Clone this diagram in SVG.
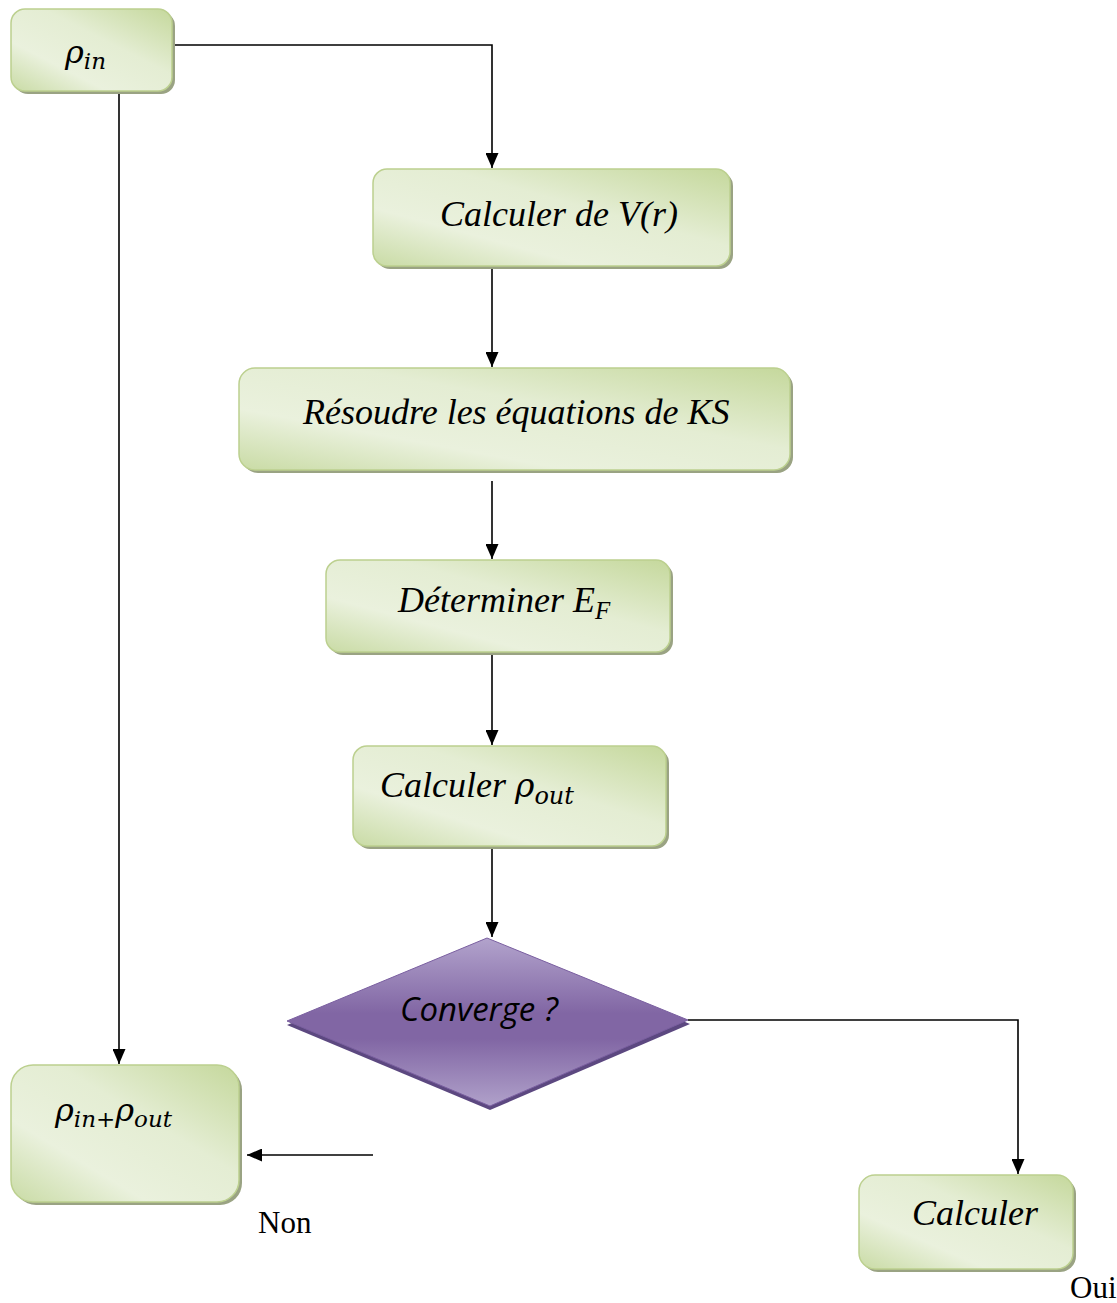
<svg xmlns="http://www.w3.org/2000/svg" width="1117" height="1303" viewBox="0 0 1117 1303">
<defs>
<linearGradient id="g" x1="0" y1="1" x2="1" y2="0">
<stop offset="0" stop-color="#c9dba5"/>
<stop offset="0.3" stop-color="#eaf1dd"/>
<stop offset="0.6" stop-color="#e4edd3"/>
<stop offset="1" stop-color="#c5d89c"/>
</linearGradient>
<linearGradient id="p" x1="0" y1="0" x2="0" y2="1">
<stop offset="0" stop-color="#b2a3cc"/>
<stop offset="0.45" stop-color="#8166a4"/>
<stop offset="0.6" stop-color="#8166a4"/>
<stop offset="1" stop-color="#b0a1ca"/>
</linearGradient>
<marker id="a" viewBox="0 0 15 13" refX="15" refY="6.5" markerWidth="15" markerHeight="13" markerUnits="userSpaceOnUse" orient="auto">
<path d="M0,0 L15,6.5 L0,13 z" fill="#000"/>
</marker>
</defs>
<style>
.box{fill:url(#g);stroke:#bcd08f;stroke-width:1.5}
.sh{fill:#9aa383}
.t{font-family:"Liberation Serif",serif;font-style:italic;font-size:36px;fill:#000}
.m{font-family:"DejaVu Serif","Liberation Serif",serif;font-style:italic;fill:#000}
.c{fill:none;stroke:#000;stroke-width:1.6;marker-end:url(#a)}
.l{font-family:"Liberation Serif",serif;font-size:31px;fill:#000}
</style>
<rect width="1117" height="1303" fill="#fff"/>
<g id="connectors">
<path class="c" d="M172,45 H492 V168"/>
<path class="c" d="M119,91 V1064"/>
<path class="c" d="M492,267 V367"/>
<path class="c" d="M492,481 V559"/>
<path class="c" d="M492,653 V745"/>
<path class="c" d="M492,847 V937"/>
<path class="c" d="M688,1020 H1018 V1174"/>
<path class="c" d="M373,1155 H247"/>
</g>
<g id="n1">
<rect class="sh" x="14" y="12" width="161" height="82" rx="14"/>
<rect class="box" x="11" y="9" width="161" height="82" rx="14"/>
<text class="m" x="65" y="63" font-size="32">ρ<tspan font-size="23" dy="6">in</tspan></text>
</g>
<g id="n2">
<rect class="sh" x="376" y="172" width="357" height="97" rx="14"/>
<rect class="box" x="373" y="169" width="357" height="97" rx="14"/>
<text class="t" x="440" y="226">Calculer de V(r)</text>
</g>
<g id="n3">
<rect class="sh" x="242" y="371" width="551" height="102" rx="16"/>
<rect class="box" x="239" y="368" width="551" height="102" rx="16"/>
<text class="t" x="303" y="424" font-size="37.5">Résoudre les équations de KS</text>
</g>
<g id="n4">
<rect class="sh" x="329" y="563" width="344" height="92" rx="14"/>
<rect class="box" x="326" y="560" width="344" height="92" rx="14"/>
<text class="t" x="398" y="612">Déterminer E<tspan font-size="25" dy="7">F</tspan></text>
</g>
<g id="n5">
<rect class="sh" x="356" y="749" width="313" height="100" rx="14"/>
<rect class="box" x="353" y="746" width="313" height="100" rx="14"/>
<text class="t" x="380" y="797">Calculer <tspan class="m" font-size="33">ρ</tspan><tspan class="m" font-size="24" dy="7">out</tspan></text>
</g>
<g id="n6">
<polygon points="287,1025 487,942 690,1024 490,1110" fill="#5c4880"/>
<polygon points="287,1021 487,938 688,1020 490,1106" fill="url(#p)" stroke="#7a5fa0" stroke-width="1"/>
<text x="400" y="1021" font-family="'Open Sans','Noto Sans',sans-serif" font-style="italic" font-size="33" fill="#000">Converge ?</text>
</g>
<g id="n7">
<rect class="sh" x="14" y="1068" width="228" height="137" rx="22"/>
<rect class="box" x="11" y="1065" width="228" height="137" rx="22"/>
<text class="m" x="55" y="1121" font-size="32">ρ<tspan font-size="23" dy="6">in+</tspan><tspan font-size="32" dy="-6">ρ</tspan><tspan font-size="23" dy="6">out</tspan></text>
</g>
<g id="n8">
<rect class="sh" x="862" y="1178" width="214" height="94" rx="16"/>
<rect class="box" x="859" y="1175" width="214" height="94" rx="16"/>
<text class="t" x="912" y="1225">Calculer</text>
</g>
<text class="l" x="258" y="1233">Non</text>
<text class="l" x="1070" y="1298">Oui</text>
</svg>
